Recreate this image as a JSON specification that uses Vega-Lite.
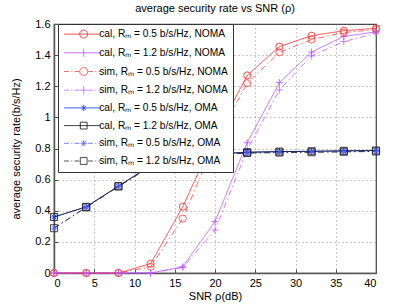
{
  "$schema": "https://vega.github.io/schema/vega-lite/v6.json",
  "autosize": "none",
  "width": 322,
  "height": 249,
  "padding": {"left": 54, "top": 24, "right": 39, "bottom": 34},
  "background": "white",
  "title": {"text": "average security  rate vs SNR (ρ)", "font": "Liberation Sans", "fontSize": 11, "fontWeight": "normal", "color": "#000", "offset": 4, "anchor": "middle"},
  "config": {
    "view": {"stroke": "#444", "strokeWidth": 1.2},
    "axis": {"grid": true, "gridDash": [1, 3], "gridColor": "#666", "gridWidth": 0.7, "domainColor": "#555", "domainWidth": 1.5, "tickColor": "#555", "tickSize": -4, "labelFont": "Liberation Sans", "labelFontSize": 11, "labelColor": "#000", "titleFont": "Liberation Sans", "titleFontSize": 11, "titleFontWeight": "normal", "titleColor": "#000"}
  },
  "data": {"values": [
    {"snr": 0, "rate": 0, "m": "cal", "c": "0.5 NOMA", "s": "cal, Rₘ = 0.5 b/s/Hz, NOMA"},
    {"snr": 4, "rate": 0, "m": "cal", "c": "0.5 NOMA", "s": "cal, Rₘ = 0.5 b/s/Hz, NOMA"},
    {"snr": 8, "rate": 0, "m": "cal", "c": "0.5 NOMA", "s": "cal, Rₘ = 0.5 b/s/Hz, NOMA"},
    {"snr": 12, "rate": 0.06, "m": "cal", "c": "0.5 NOMA", "s": "cal, Rₘ = 0.5 b/s/Hz, NOMA"},
    {"snr": 16, "rate": 0.426, "m": "cal", "c": "0.5 NOMA", "s": "cal, Rₘ = 0.5 b/s/Hz, NOMA"},
    {"snr": 20, "rate": 0.88, "m": "cal", "c": "0.5 NOMA", "s": "cal, Rₘ = 0.5 b/s/Hz, NOMA"},
    {"snr": 24, "rate": 1.27, "m": "cal", "c": "0.5 NOMA", "s": "cal, Rₘ = 0.5 b/s/Hz, NOMA"},
    {"snr": 28, "rate": 1.455, "m": "cal", "c": "0.5 NOMA", "s": "cal, Rₘ = 0.5 b/s/Hz, NOMA"},
    {"snr": 32, "rate": 1.525, "m": "cal", "c": "0.5 NOMA", "s": "cal, Rₘ = 0.5 b/s/Hz, NOMA"},
    {"snr": 36, "rate": 1.557, "m": "cal", "c": "0.5 NOMA", "s": "cal, Rₘ = 0.5 b/s/Hz, NOMA"},
    {"snr": 40, "rate": 1.573, "m": "cal", "c": "0.5 NOMA", "s": "cal, Rₘ = 0.5 b/s/Hz, NOMA"},
    {"snr": 0, "rate": 0, "m": "cal", "c": "1.2 NOMA", "s": "cal, Rₘ = 1.2 b/s/Hz, NOMA"},
    {"snr": 4, "rate": 0, "m": "cal", "c": "1.2 NOMA", "s": "cal, Rₘ = 1.2 b/s/Hz, NOMA"},
    {"snr": 8, "rate": 0, "m": "cal", "c": "1.2 NOMA", "s": "cal, Rₘ = 1.2 b/s/Hz, NOMA"},
    {"snr": 12, "rate": 0, "m": "cal", "c": "1.2 NOMA", "s": "cal, Rₘ = 1.2 b/s/Hz, NOMA"},
    {"snr": 16, "rate": 0.04, "m": "cal", "c": "1.2 NOMA", "s": "cal, Rₘ = 1.2 b/s/Hz, NOMA"},
    {"snr": 20, "rate": 0.33, "m": "cal", "c": "1.2 NOMA", "s": "cal, Rₘ = 1.2 b/s/Hz, NOMA"},
    {"snr": 24, "rate": 0.837, "m": "cal", "c": "1.2 NOMA", "s": "cal, Rₘ = 1.2 b/s/Hz, NOMA"},
    {"snr": 28, "rate": 1.223, "m": "cal", "c": "1.2 NOMA", "s": "cal, Rₘ = 1.2 b/s/Hz, NOMA"},
    {"snr": 32, "rate": 1.42, "m": "cal", "c": "1.2 NOMA", "s": "cal, Rₘ = 1.2 b/s/Hz, NOMA"},
    {"snr": 36, "rate": 1.52, "m": "cal", "c": "1.2 NOMA", "s": "cal, Rₘ = 1.2 b/s/Hz, NOMA"},
    {"snr": 40, "rate": 1.55, "m": "cal", "c": "1.2 NOMA", "s": "cal, Rₘ = 1.2 b/s/Hz, NOMA"},
    {"snr": 0, "rate": 0, "m": "sim", "c": "0.5 NOMA", "s": "sim, Rₘ = 0.5 b/s/Hz, NOMA"},
    {"snr": 4, "rate": 0, "m": "sim", "c": "0.5 NOMA", "s": "sim, Rₘ = 0.5 b/s/Hz, NOMA"},
    {"snr": 8, "rate": 0, "m": "sim", "c": "0.5 NOMA", "s": "sim, Rₘ = 0.5 b/s/Hz, NOMA"},
    {"snr": 12, "rate": 0.04, "m": "sim", "c": "0.5 NOMA", "s": "sim, Rₘ = 0.5 b/s/Hz, NOMA"},
    {"snr": 16, "rate": 0.35, "m": "sim", "c": "0.5 NOMA", "s": "sim, Rₘ = 0.5 b/s/Hz, NOMA"},
    {"snr": 20, "rate": 0.84, "m": "sim", "c": "0.5 NOMA", "s": "sim, Rₘ = 0.5 b/s/Hz, NOMA"},
    {"snr": 24, "rate": 1.22, "m": "sim", "c": "0.5 NOMA", "s": "sim, Rₘ = 0.5 b/s/Hz, NOMA"},
    {"snr": 28, "rate": 1.418, "m": "sim", "c": "0.5 NOMA", "s": "sim, Rₘ = 0.5 b/s/Hz, NOMA"},
    {"snr": 32, "rate": 1.5, "m": "sim", "c": "0.5 NOMA", "s": "sim, Rₘ = 0.5 b/s/Hz, NOMA"},
    {"snr": 36, "rate": 1.545, "m": "sim", "c": "0.5 NOMA", "s": "sim, Rₘ = 0.5 b/s/Hz, NOMA"},
    {"snr": 40, "rate": 1.565, "m": "sim", "c": "0.5 NOMA", "s": "sim, Rₘ = 0.5 b/s/Hz, NOMA"},
    {"snr": 0, "rate": 0, "m": "sim", "c": "1.2 NOMA", "s": "sim, Rₘ = 1.2 b/s/Hz, NOMA"},
    {"snr": 4, "rate": 0, "m": "sim", "c": "1.2 NOMA", "s": "sim, Rₘ = 1.2 b/s/Hz, NOMA"},
    {"snr": 8, "rate": 0, "m": "sim", "c": "1.2 NOMA", "s": "sim, Rₘ = 1.2 b/s/Hz, NOMA"},
    {"snr": 12, "rate": 0, "m": "sim", "c": "1.2 NOMA", "s": "sim, Rₘ = 1.2 b/s/Hz, NOMA"},
    {"snr": 16, "rate": 0.035, "m": "sim", "c": "1.2 NOMA", "s": "sim, Rₘ = 1.2 b/s/Hz, NOMA"},
    {"snr": 20, "rate": 0.276, "m": "sim", "c": "1.2 NOMA", "s": "sim, Rₘ = 1.2 b/s/Hz, NOMA"},
    {"snr": 24, "rate": 0.79, "m": "sim", "c": "1.2 NOMA", "s": "sim, Rₘ = 1.2 b/s/Hz, NOMA"},
    {"snr": 28, "rate": 1.176, "m": "sim", "c": "1.2 NOMA", "s": "sim, Rₘ = 1.2 b/s/Hz, NOMA"},
    {"snr": 32, "rate": 1.395, "m": "sim", "c": "1.2 NOMA", "s": "sim, Rₘ = 1.2 b/s/Hz, NOMA"},
    {"snr": 36, "rate": 1.487, "m": "sim", "c": "1.2 NOMA", "s": "sim, Rₘ = 1.2 b/s/Hz, NOMA"},
    {"snr": 40, "rate": 1.54, "m": "sim", "c": "1.2 NOMA", "s": "sim, Rₘ = 1.2 b/s/Hz, NOMA"},
    {"snr": 0, "rate": 0.36, "m": "cal", "c": "0.5 OMA", "s": "cal, Rₘ = 0.5 b/s/Hz, OMA"},
    {"snr": 4, "rate": 0.425, "m": "cal", "c": "0.5 OMA", "s": "cal, Rₘ = 0.5 b/s/Hz, OMA"},
    {"snr": 8, "rate": 0.558, "m": "cal", "c": "0.5 OMA", "s": "cal, Rₘ = 0.5 b/s/Hz, OMA"},
    {"snr": 12, "rate": 0.69, "m": "cal", "c": "0.5 OMA", "s": "cal, Rₘ = 0.5 b/s/Hz, OMA"},
    {"snr": 16, "rate": 0.745, "m": "cal", "c": "0.5 OMA", "s": "cal, Rₘ = 0.5 b/s/Hz, OMA"},
    {"snr": 20, "rate": 0.765, "m": "cal", "c": "0.5 OMA", "s": "cal, Rₘ = 0.5 b/s/Hz, OMA"},
    {"snr": 24, "rate": 0.776, "m": "cal", "c": "0.5 OMA", "s": "cal, Rₘ = 0.5 b/s/Hz, OMA"},
    {"snr": 28, "rate": 0.78, "m": "cal", "c": "0.5 OMA", "s": "cal, Rₘ = 0.5 b/s/Hz, OMA"},
    {"snr": 32, "rate": 0.782, "m": "cal", "c": "0.5 OMA", "s": "cal, Rₘ = 0.5 b/s/Hz, OMA"},
    {"snr": 36, "rate": 0.785, "m": "cal", "c": "0.5 OMA", "s": "cal, Rₘ = 0.5 b/s/Hz, OMA"},
    {"snr": 40, "rate": 0.787, "m": "cal", "c": "0.5 OMA", "s": "cal, Rₘ = 0.5 b/s/Hz, OMA"},
    {"snr": 0, "rate": 0.36, "m": "cal", "c": "1.2 OMA", "s": "cal, Rₘ = 1.2 b/s/Hz, OMA"},
    {"snr": 4, "rate": 0.425, "m": "cal", "c": "1.2 OMA", "s": "cal, Rₘ = 1.2 b/s/Hz, OMA"},
    {"snr": 8, "rate": 0.558, "m": "cal", "c": "1.2 OMA", "s": "cal, Rₘ = 1.2 b/s/Hz, OMA"},
    {"snr": 12, "rate": 0.69, "m": "cal", "c": "1.2 OMA", "s": "cal, Rₘ = 1.2 b/s/Hz, OMA"},
    {"snr": 16, "rate": 0.745, "m": "cal", "c": "1.2 OMA", "s": "cal, Rₘ = 1.2 b/s/Hz, OMA"},
    {"snr": 20, "rate": 0.765, "m": "cal", "c": "1.2 OMA", "s": "cal, Rₘ = 1.2 b/s/Hz, OMA"},
    {"snr": 24, "rate": 0.776, "m": "cal", "c": "1.2 OMA", "s": "cal, Rₘ = 1.2 b/s/Hz, OMA"},
    {"snr": 28, "rate": 0.78, "m": "cal", "c": "1.2 OMA", "s": "cal, Rₘ = 1.2 b/s/Hz, OMA"},
    {"snr": 32, "rate": 0.782, "m": "cal", "c": "1.2 OMA", "s": "cal, Rₘ = 1.2 b/s/Hz, OMA"},
    {"snr": 36, "rate": 0.785, "m": "cal", "c": "1.2 OMA", "s": "cal, Rₘ = 1.2 b/s/Hz, OMA"},
    {"snr": 40, "rate": 0.787, "m": "cal", "c": "1.2 OMA", "s": "cal, Rₘ = 1.2 b/s/Hz, OMA"},
    {"snr": 0, "rate": 0.288, "m": "sim", "c": "0.5 OMA", "s": "sim, Rₘ = 0.5 b/s/Hz, OMA"},
    {"snr": 4, "rate": 0.422, "m": "sim", "c": "0.5 OMA", "s": "sim, Rₘ = 0.5 b/s/Hz, OMA"},
    {"snr": 8, "rate": 0.556, "m": "sim", "c": "0.5 OMA", "s": "sim, Rₘ = 0.5 b/s/Hz, OMA"},
    {"snr": 12, "rate": 0.685, "m": "sim", "c": "0.5 OMA", "s": "sim, Rₘ = 0.5 b/s/Hz, OMA"},
    {"snr": 16, "rate": 0.74, "m": "sim", "c": "0.5 OMA", "s": "sim, Rₘ = 0.5 b/s/Hz, OMA"},
    {"snr": 20, "rate": 0.76, "m": "sim", "c": "0.5 OMA", "s": "sim, Rₘ = 0.5 b/s/Hz, OMA"},
    {"snr": 24, "rate": 0.771, "m": "sim", "c": "0.5 OMA", "s": "sim, Rₘ = 0.5 b/s/Hz, OMA"},
    {"snr": 28, "rate": 0.774, "m": "sim", "c": "0.5 OMA", "s": "sim, Rₘ = 0.5 b/s/Hz, OMA"},
    {"snr": 32, "rate": 0.776, "m": "sim", "c": "0.5 OMA", "s": "sim, Rₘ = 0.5 b/s/Hz, OMA"},
    {"snr": 36, "rate": 0.779, "m": "sim", "c": "0.5 OMA", "s": "sim, Rₘ = 0.5 b/s/Hz, OMA"},
    {"snr": 40, "rate": 0.781, "m": "sim", "c": "0.5 OMA", "s": "sim, Rₘ = 0.5 b/s/Hz, OMA"},
    {"snr": 0, "rate": 0.288, "m": "sim", "c": "1.2 OMA", "s": "sim, Rₘ = 1.2 b/s/Hz, OMA"},
    {"snr": 4, "rate": 0.422, "m": "sim", "c": "1.2 OMA", "s": "sim, Rₘ = 1.2 b/s/Hz, OMA"},
    {"snr": 8, "rate": 0.556, "m": "sim", "c": "1.2 OMA", "s": "sim, Rₘ = 1.2 b/s/Hz, OMA"},
    {"snr": 12, "rate": 0.685, "m": "sim", "c": "1.2 OMA", "s": "sim, Rₘ = 1.2 b/s/Hz, OMA"},
    {"snr": 16, "rate": 0.74, "m": "sim", "c": "1.2 OMA", "s": "sim, Rₘ = 1.2 b/s/Hz, OMA"},
    {"snr": 20, "rate": 0.76, "m": "sim", "c": "1.2 OMA", "s": "sim, Rₘ = 1.2 b/s/Hz, OMA"},
    {"snr": 24, "rate": 0.771, "m": "sim", "c": "1.2 OMA", "s": "sim, Rₘ = 1.2 b/s/Hz, OMA"},
    {"snr": 28, "rate": 0.774, "m": "sim", "c": "1.2 OMA", "s": "sim, Rₘ = 1.2 b/s/Hz, OMA"},
    {"snr": 32, "rate": 0.776, "m": "sim", "c": "1.2 OMA", "s": "sim, Rₘ = 1.2 b/s/Hz, OMA"},
    {"snr": 36, "rate": 0.779, "m": "sim", "c": "1.2 OMA", "s": "sim, Rₘ = 1.2 b/s/Hz, OMA"},
    {"snr": 40, "rate": 0.781, "m": "sim", "c": "1.2 OMA", "s": "sim, Rₘ = 1.2 b/s/Hz, OMA"}
  ]},
  "encoding": {
    "x": {"field": "snr", "type": "quantitative", "scale": {"domain": [0, 40], "nice": false, "zero": false}, "axis": {"values": [0, 5, 10, 15, 20, 25, 30, 35, 40], "format": "~g", "title": "SNR ρ(dB)", "labelPadding": 8, "titlePadding": 2}},
    "y": {"field": "rate", "type": "quantitative", "scale": {"domain": [0, 1.6], "nice": false}, "axis": {"values": [0, 0.2, 0.4, 0.6, 0.8, 1, 1.2, 1.4, 1.6], "format": "~g", "title": "average security rate(b/s/Hz)", "labelPadding": 8, "titlePadding": 13}}
  },
  "layer": [
    {
      "mark": {"type": "line", "strokeWidth": 0.8},
      "encoding": {
        "color": {"field": "s", "type": "nominal", "sort": null,
          "scale": {"domain": ["cal, Rₘ = 0.5 b/s/Hz, NOMA", "cal, Rₘ = 1.2 b/s/Hz, NOMA", "sim, Rₘ = 0.5 b/s/Hz, NOMA", "sim, Rₘ = 1.2 b/s/Hz, NOMA", "cal, Rₘ = 0.5 b/s/Hz, OMA", "cal, Rₘ = 1.2 b/s/Hz, OMA", "sim, Rₘ = 0.5 b/s/Hz, OMA", "sim, Rₘ = 1.2 b/s/Hz, OMA"],
                    "range": ["#ff2020", "#b84dff", "#ff4040", "#c060ff", "#1030ff", "#111111", "#5060ff", "#222222"]},
          "legend": {"title": null, "orient": "none", "legendX": 4, "legendY": 0, "fillColor": "white", "strokeColor": "#333", "padding": 5, "symbolSize": 64, "labelOffset": 26, "rowPadding": 6.7, "labelFont": "Liberation Sans", "labelFontSize": 10.2, "labelColor": "#000", "symbolStrokeWidth": 0.8,
            "encode": {"symbols": {"update": {
              "fill": {"value": "transparent"},
              "shape": {"signal": "['M-1,0L8,0M4.9,0A1,1,0,1,1,2.9,0A1,1,0,1,1,4.9,0', 'M-1,0L8,0M3.9,-1L3.9,1', 'M-1,0L0.2,0M0.8,0L1.05,0M1.6,0L2.8,0M4.9,0A1,1,0,1,1,2.9,0A1,1,0,1,1,4.9,0M5,0L6.2,0M6.8,0L7.05,0M7.6,0L8,0', 'M-1,0L0.2,0M0.8,0L1.05,0M1.6,0L2.8,0M2.9,0L4.9,0M3.9,-1L3.9,1M5,0L6.2,0M6.8,0L7.05,0M7.6,0L8,0', 'M-1,0L8,0M3.9,-0.8L3.9,0.8M3.33,-0.57L4.47,0.57M3.33,0.57L4.47,-0.57', 'M-1,0L8,0M3.05,-0.85L4.75,-0.85L4.75,0.85L3.05,0.85Z', 'M-1,0L0.2,0M0.8,0L1.05,0M1.6,0L2.8,0M3.1,0L4.7,0M3.9,-0.8L3.9,0.8M3.33,-0.57L4.47,0.57M3.33,0.57L4.47,-0.57M5,0L6.2,0M6.8,0L7.05,0M7.6,0L8,0', 'M-1,0L0.2,0M0.8,0L1.05,0M1.6,0L2.8,0M3.05,-0.85L4.75,-0.85L4.75,0.85L3.05,0.85ZM5,0L6.2,0M6.8,0L7.05,0M7.6,0L8,0'][datum.index]"}
            }}}
          }
        },
        "strokeDash": {"field": "m", "type": "nominal", "legend": null,
          "scale": {"domain": ["cal", "sim"], "range": [[1, 0], [6, 3, 1.5, 3]]}}
      }
    },
    {
      "mark": {"type": "point", "filled": false, "strokeWidth": 0.8, "size": 50, "opacity": 1},
      "encoding": {
        "color": {"field": "s", "type": "nominal", "sort": null},
        "shape": {"field": "c", "type": "nominal", "legend": null,
          "scale": {"domain": ["0.5 NOMA", "1.2 NOMA", "0.5 OMA", "1.2 OMA"],
                    "range": ["circle", "M-1,0L1,0M0,-1L0,1", "M-1,0L1,0M0,-1L0,1M-0.7,-0.7L0.7,0.7M-0.7,0.7L0.7,-0.7", "square"]}}
      }
    }
  ]
}
